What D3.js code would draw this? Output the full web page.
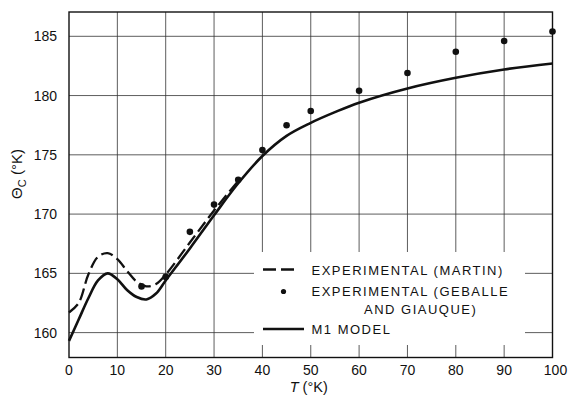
<!DOCTYPE html>
<html>
<head>
<meta charset="utf-8">
<script src="https://cdn.jsdelivr.net/npm/d3@7"></script>
<style>
  body { margin: 0; background: #fff; }
  svg { display: block; }
  text { font-family: "Liberation Sans", Arial, sans-serif; fill: #111; }
</style>
</head>
<body>
<svg id="chart" width="569" height="404"></svg>
<script>
// values
const modelT = [0, 2, 4, 6, 8, 10, 12, 14, 16, 18, 20, 25, 30, 35, 40, 45, 50, 55, 60, 70, 80, 90, 100];
const modelTheta = [159.3, 161.1, 162.9, 164.4, 165.0, 164.5, 163.6, 163.0, 162.8, 163.3, 164.4, 167.1, 169.9, 172.6, 174.9, 176.6, 177.7, 178.6, 179.4, 180.6, 181.5, 182.2, 182.7];

const martinT = [0, 2, 4, 6, 8, 10, 12, 14, 16, 18, 20, 25, 30, 35];
const martinTheta = [161.7, 162.5, 164.9, 166.4, 166.7, 166.2, 165.2, 164.3, 163.9, 164.1, 164.9, 167.6, 170.3, 172.8];

const gebT = [15, 20, 25, 30, 35, 40, 45, 50, 60, 70, 80, 90, 100];
const gebTheta = [163.9, 164.7, 168.5, 170.8, 172.9, 175.4, 177.5, 178.7, 180.4, 181.9, 183.7, 184.6, 185.4];

const xTicks = [0, 10, 20, 30, 40, 50, 60, 70, 80, 90, 100];
const yTicks = [160, 165, 170, 175, 180, 185];

const legendItems = ['EXPERIMENTAL (MARTIN)', 'EXPERIMENTAL (GEBALLE', 'M1 MODEL'];

const svg = d3.select('#chart');
const plotL = 69, plotR = 552.5, plotT = 12, plotB = 357.5;

const x = d3.scaleLinear().domain([0, 100]).range([plotL, plotR]);
const y = d3.scaleLinear().domain([157.9, 187.05]).range([plotB, plotT]);

// grid
const grid = svg.append('g').attr('class', 'grid')
  .attr('stroke', '#333').attr('stroke-width', 0.8);
grid.selectAll('.vgrid')
  .data(xTicks.slice(1, -1))
  .enter().append('line')
  .attr('x1', d => x(d)).attr('x2', d => x(d))
  .attr('y1', plotT).attr('y2', plotB);
grid.selectAll('.hgrid')
  .data(yTicks)
  .enter().append('line')
  .attr('x1', plotL).attr('x2', plotR)
  .attr('y1', d => y(d)).attr('y2', d => y(d));

// frame
svg.append('rect')
  .attr('x', plotL).attr('y', plotT)
  .attr('width', plotR - plotL).attr('height', plotB - plotT)
  .attr('fill', 'none').attr('stroke', '#111').attr('stroke-width', 1.4);

// tick labels
svg.selectAll('.ylab')
  .data(yTicks)
  .enter().append('text')
  .attr('x', plotL - 12).attr('y', d => y(d) + 5)
  .attr('text-anchor', 'end').attr('font-size', 14)
  .text(d => d);
svg.selectAll('.xlab')
  .data(xTicks)
  .enter().append('text')
  .attr('x', d => x(d) + (d === 100 ? 3 : 0)).attr('y', 375)
  .attr('text-anchor', 'middle').attr('font-size', 14)
  .text(d => d);

// axis titles
const xt = svg.append('text')
  .attr('x', (plotL + plotR) / 2 - 2).attr('y', 392)
  .attr('text-anchor', 'middle').attr('font-size', 14.5);
xt.append('tspan').attr('font-style', 'italic').text('T');
xt.append('tspan').text(' (°K)');

const yt = svg.append('text')
  .attr('transform', 'translate(22,174) rotate(-90)')
  .attr('text-anchor', 'middle').attr('font-size', 15);
yt.append('tspan').text('Θ');
yt.append('tspan').attr('font-size', 11).attr('dy', 4).text('C');
yt.append('tspan').attr('dy', -4).text(' (°K)');

// curves
const line = d3.line()
  .x(d => x(d[0])).y(d => y(d[1]))
  .curve(d3.curveCatmullRom.alpha(0.5));

svg.append('path')
  .datum(d3.zip(martinT, martinTheta))
  .attr('d', line)
  .attr('fill', 'none').attr('stroke', '#111')
  .attr('stroke-width', 2.3).attr('stroke-dasharray', '12,5');

svg.append('path')
  .datum(d3.zip(modelT, modelTheta))
  .attr('d', line)
  .attr('fill', 'none').attr('stroke', '#111').attr('stroke-width', 2.6);

svg.selectAll('.pt')
  .data(d3.zip(gebT, gebTheta))
  .enter().append('circle')
  .attr('cx', d => x(d[0])).attr('cy', d => y(d[1]))
  .attr('r', 3.3).attr('fill', '#111');

// legend (white box interrupts the grid)
const lg = svg.append('g');
lg.append('rect')
  .attr('x', 254).attr('y', 252).attr('width', 271).attr('height', 93)
  .attr('fill', '#fff');
lg.append('line')
  .attr('x1', 263).attr('x2', 298).attr('y1', 269.5).attr('y2', 269.5)
  .attr('stroke', '#111').attr('stroke-width', 2.3).attr('stroke-dasharray', '13,5');
lg.append('circle')
  .attr('cx', 283.5).attr('cy', 291.5).attr('r', 2.6).attr('fill', '#111');
lg.append('line')
  .attr('x1', 263).attr('x2', 304).attr('y1', 329).attr('y2', 329)
  .attr('stroke', '#111').attr('stroke-width', 2.3);

const legendY = [274.5, 296, 334];
lg.selectAll('.lt')
  .data(legendItems)
  .enter().append('text')
  .attr('x', 311.5).attr('y', (d, i) => legendY[i])
  .attr('font-size', 13).attr('letter-spacing', 1.5)
  .text(d => d);
lg.append('text')
  .attr('x', 364).attr('y', 314)
  .attr('font-size', 13).attr('letter-spacing', 1.5)
  .text('AND GIAUQUE)');
</script>
</body>
</html>
